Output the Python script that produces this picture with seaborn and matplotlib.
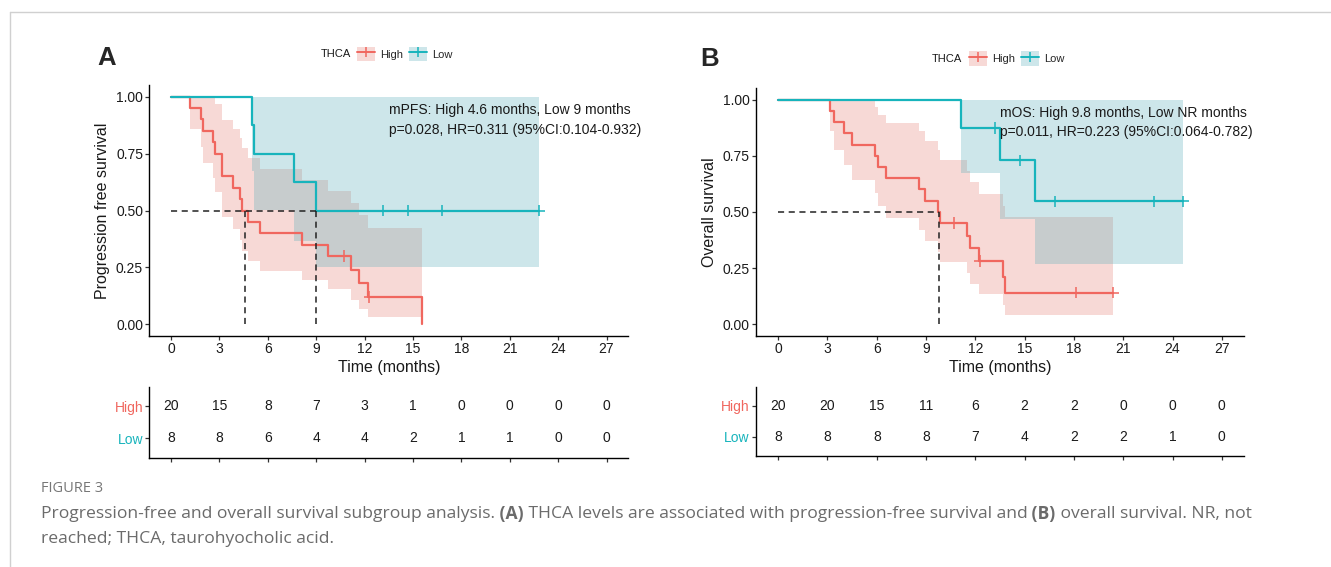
import matplotlib
matplotlib.use("Agg")
import matplotlib.pyplot as plt
from matplotlib.lines import Line2D
from matplotlib.patches import Patch
from matplotlib.legend_handler import HandlerTuple
import numpy as np
import pandas as pd
import seaborn as sns

sns.set_style("white")
plt.rcParams['font.family'] = ['Liberation Sans', 'DejaVu Sans']

W, H = 1331, 567
my_dpi = 100

groups = ['High', 'Low']
line_cols = {'High': '#F0675F', 'Low': '#17B4BC'}
fill_cols = {'High': '#E6837A', 'Low': '#5AAEBB'}

# follow-up times (months), event 1 = progression/death, 0 = censored
pfs_high_time = [1.15, 1.86, 1.96, 2.58, 2.74, 3.16, 3.16, 3.84, 4.30, 4.38,
                 4.76, 5.53, 8.11, 9.70, 10.73, 11.16, 11.68, 12.24, 12.30, 15.58]
pfs_high_event = [1, 1, 1, 1, 1, 1, 1, 1, 1, 1, 1, 1, 1, 1, 0, 1, 1, 1, 0, 1]
pfs_low_time = [5.01, 5.16, 7.64, 8.97, 13.17, 14.71, 16.81, 22.81]
pfs_low_event = [1, 1, 1, 1, 0, 0, 0, 0]

os_high_time = [3.17, 3.37, 3.98, 4.52, 5.89, 6.09, 6.54, 8.59, 8.93, 9.70,
                9.85, 10.72, 11.52, 11.65, 12.24, 12.30, 13.70, 13.80, 18.10, 20.40]
os_high_event = [1, 1, 1, 1, 1, 1, 1, 1, 1, 1, 1, 0, 1, 1, 1, 0, 1, 1, 0, 0]
os_low_time = [11.15, 13.17, 13.48, 14.70, 15.65, 16.85, 22.85, 24.63]
os_low_event = [1, 0, 1, 0, 1, 0, 0, 0]

# numbers at risk
risk_times = [0, 3, 6, 9, 12, 15, 18, 21, 24, 27]
pfs_risk_high = [20, 15, 8, 7, 3, 1, 0, 0, 0, 0]
pfs_risk_low = [8, 8, 6, 4, 4, 2, 1, 1, 0, 0]
os_risk_high = [20, 20, 15, 11, 6, 2, 2, 0, 0, 0]
os_risk_low = [8, 8, 8, 8, 7, 4, 2, 2, 1, 0]

pfs_median = [4.56, 8.97]
os_median = [9.78]

pfs_text = ["mPFS: High 4.6 months, Low 9 months",
            "p=0.028, HR=0.311 (95%CI:0.104-0.932)"]
os_text = ["mOS: High 9.8 months, Low NR months",
           "p=0.011, HR=0.223 (95%CI:0.064-0.782)"]


def km(time, event):
    d = pd.DataFrame({'t': time, 'e': event}).sort_values('t')
    n = len(d)
    s, v = 1.0, 0.0
    curve = [(0.0, 1.0)]
    band = [(0.0, 1.0, 1.0)]
    cens = []
    for t, g in d.groupby('t'):
        ev = int(g['e'].sum())
        if ev > 0:
            s *= 1 - ev / n
            if n > ev:
                v += ev / (n * (n - ev))
            curve.append((t, s))
            if s > 0:
                se = np.sqrt(v)
                band.append((t, s * np.exp(-1.96 * se), min(1.0, s * np.exp(1.96 * se))))
        if len(g) - ev > 0:
            cens.append((t, s))
        n -= len(g)
    tmax = max(time)
    if curve[-1][0] < tmax:
        curve.append((tmax, s))
    band.append((tmax, band[-1][1], band[-1][2]))
    return (pd.DataFrame(curve, columns=['t', 's']),
            pd.DataFrame(band, columns=['t', 'lo', 'hi']),
            pd.DataFrame(cens, columns=['t', 's']))


fig = plt.figure(figsize=(W / my_dpi, H / my_dpi), dpi=my_dpi)


def px_axes(x0, x1, ytop, ybot):
    return fig.add_axes([x0 / W, 1 - ybot / H, (x1 - x0) / W, (ybot - ytop) / H])


def style(ax):
    sns.despine(ax=ax)
    for sp in ['left', 'bottom']:
        ax.spines[sp].set_linewidth(1.0)
        ax.spines[sp].set_color('black')
    ax.tick_params(direction='out', length=3, width=0.9, pad=1.5, labelsize=10,
                   color='#333333', labelcolor='#1a1a1a', left=True, bottom=True)
    ax.set_xlim(-1.35, 28.35)
    ax.set_xticks(risk_times)


def km_panel(ax, data, medians, text, ylabel):
    curves = []
    cens_all = []
    for g, (tt, ee) in zip(groups, data):
        c, b, ce = km(tt, ee)
        ax.fill_between(b['t'], b['lo'], b['hi'], step='post',
                        color=fill_cols[g], alpha=0.3, lw=0, zorder=1)
        c['group'] = g
        ce['group'] = g
        curves.append(c)
        cens_all.append(ce)
    cdf = pd.concat(curves, ignore_index=True)
    sns.lineplot(data=cdf, x='t', y='s', hue='group', palette=line_cols,
                 drawstyle='steps-post', estimator=None, legend=False,
                 linewidth=1.6, ax=ax, zorder=3)
    cedf = pd.concat(cens_all, ignore_index=True)
    sns.scatterplot(data=cedf, x='t', y='s', hue='group', palette=line_cols,
                    marker='+', s=70, linewidth=1.1, legend=False, ax=ax, zorder=4)
    # median lines
    ax.plot([0, max(medians)], [0.5, 0.5], ls=(0, (4, 3)), color='#222222', lw=1.1, zorder=5)
    for m in medians:
        ax.plot([m, m], [0, 0.5], ls=(0, (4, 3)), color='#222222', lw=1.1, zorder=5)
    ax.text(13.5, 0.94, text[0], fontsize=10, va='center', color='#1a1a1a')
    ax.text(13.5, 0.855, text[1], fontsize=10, va='center', color='#1a1a1a')
    style(ax)
    ax.set_ylim(-0.05, 1.05)
    ax.set_yticks([0, 0.25, 0.5, 0.75, 1.0])
    ax.set_yticklabels(['0.00', '0.25', '0.50', '0.75', '1.00'])
    ax.set_xlabel('Time (months)', fontsize=11.5, labelpad=3, color='#1a1a1a')
    ax.set_ylabel(ylabel, fontsize=11.5, labelpad=4, color='#1a1a1a')


def risk_panel(ax, high, low):
    for row, vals in [(2, high), (1, low)]:
        for t, v in zip(risk_times, vals):
            ax.text(t, row, str(v), ha='center', va='center', fontsize=10, color='#1a1a1a')
    style(ax)
    ax.set_ylim(0.4, 2.6)
    ax.set_yticks([2, 1])
    ax.set_yticklabels(groups, fontsize=10)
    for lab, g in zip(ax.get_yticklabels(), groups):
        lab.set_color(line_cols[g])
    ax.set_xticklabels([])
    ax.set_xlabel('')
    ax.set_ylabel('')


def add_legend(x_title, x_keys, y):
    fig.text(x_title / W, 1 - y / H, 'THCA', ha='right', va='center', fontsize=8, color='#1a1a1a')
    handles = [(Patch(facecolor=fill_cols[g], alpha=0.3, edgecolor='none'),
                Line2D([], [], color=line_cols[g], lw=1.4, marker='|', markersize=7, mew=1.1))
               for g in groups]
    fig.legend(handles, groups, loc='center left', bbox_to_anchor=(x_keys / W, 1 - y / H),
               ncol=2, frameon=False, fontsize=8, handlelength=1.6, handleheight=1.6,
               handletextpad=0.45, columnspacing=0.6, borderpad=0, borderaxespad=0,
               handler_map={tuple: HandlerTuple(ndivide=1, pad=0)})


# panel A
axA = px_axes(149.3, 628.3, 85.3, 335.7)
km_panel(axA, [(pfs_high_time, pfs_high_event), (pfs_low_time, pfs_low_event)],
         pfs_median, pfs_text, 'Progression free survival')
rA = px_axes(149.3, 628.3, 387.0, 457.7)
risk_panel(rA, pfs_risk_high, pfs_risk_low)
add_legend(351, 357, 54)
fig.text(97 / W, 1 - 65 / H, 'A', fontsize=18.5, weight='bold', va='baseline')

# panel B
axB = px_axes(756.0, 1244.0, 88.4, 335.5)
km_panel(axB, [(os_high_time, os_high_event), (os_low_time, os_low_event)],
         os_median, os_text, 'Overall survival')
rB = px_axes(756.0, 1244.0, 386.7, 455.7)
risk_panel(rB, os_risk_high, os_risk_low)
add_legend(962, 969, 58.5)
fig.text(700 / W, 1 - 66 / H, 'B', fontsize=18.5, weight='bold', va='baseline')

# page frame
fig.add_artist(Line2D([9.5 / W, 1], [1 - 12 / H, 1 - 12 / H], transform=fig.transFigure,
                      color='#D0D0D0', lw=1))
fig.add_artist(Line2D([9.5 / W, 9.5 / W], [0, 1 - 12 / H], transform=fig.transFigure,
                      color='#D0D0D0', lw=1))

# caption
cap_kw = dict(fontsize=12.6, color='#6b6b6b', family=['Open Sans', 'DejaVu Sans'], va='center')
fig.text(41 / W, 1 - 489 / H, 'FIGURE 3', fontsize=10.5, color='#777777',
         family=['Open Sans', 'DejaVu Sans'], va='center')

renderer = fig.canvas.get_renderer()


def rich_line(x, y, parts):
    for txt, wt in parts:
        t = fig.text(x / W, 1 - y / H, txt, weight=wt, **cap_kw)
        x += t.get_window_extent(renderer=renderer).width


rich_line(41, 514, [("Progression-free and overall survival subgroup analysis.", 'normal'),
                    (" (A)", 'bold'),
                    (" THCA levels are associated with progression-free survival and", 'normal'),
                    (" (B)", 'bold'),
                    (" overall survival. NR, not", 'normal')])
rich_line(41, 539, [("reached; THCA, taurohyocholic acid.", 'normal')])

fig.savefig('out.png', dpi=my_dpi)
